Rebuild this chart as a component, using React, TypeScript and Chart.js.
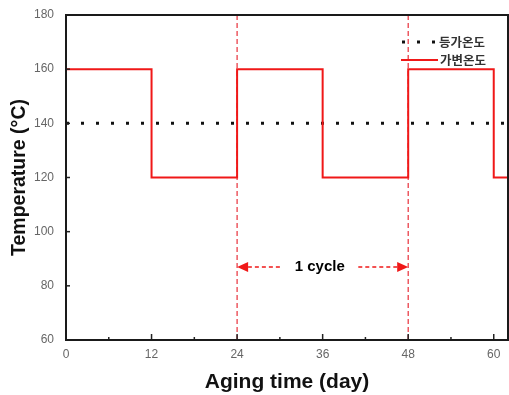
import React, { useEffect, useRef } from 'react';
import { Chart, registerables } from 'chart.js';

Chart.register(...registerables);

const stepDays = [0, 12, 24, 36, 48, 60, 62];
const variableTemps = [160, 120, 160, 120, 160, 120, 120];
const constantDays = [0, 62];
const constantTemps = [140, 140];
const cycleBoundaries = [24, 48];
const xTickValues = [0, 12, 24, 36, 48, 60];
const xMinorTickValues = [6, 18, 30, 42, 54];
const yTickValues = [60, 80, 100, 120, 140, 160, 180];
const legendLabels = ['등가온도', '가변온도'];
const cycleLabel = '1 cycle';
const cycleArrowY = 87;
const cycleArrowLeft = [30, 24];
const cycleArrowRight = [41, 48];
const cycleLabelX = 35.6;

const RED = '#f01818';

const decorPlugin = {
  id: 'decor',
  afterDatasetsDraw(chart: any) {
    const { ctx, chartArea, scales } = chart;
    const xs = scales.x;
    const ys = scales.y;
    ctx.save();
    // ticks inward
    ctx.strokeStyle = '#222';
    ctx.lineWidth = 1.5;
    xTickValues.forEach((v) => {
      const px = xs.getPixelForValue(v);
      ctx.beginPath();
      ctx.moveTo(px, chartArea.bottom);
      ctx.lineTo(px, chartArea.bottom - 6);
      ctx.stroke();
    });
    xMinorTickValues.forEach((v) => {
      const px = xs.getPixelForValue(v);
      ctx.beginPath();
      ctx.moveTo(px, chartArea.bottom);
      ctx.lineTo(px, chartArea.bottom - 3);
      ctx.stroke();
    });
    yTickValues.forEach((v) => {
      const py = ys.getPixelForValue(v);
      ctx.beginPath();
      ctx.moveTo(chartArea.left, py);
      ctx.lineTo(chartArea.left + 4, py);
      ctx.stroke();
    });
    // border
    ctx.strokeStyle = '#1a1a1a';
    ctx.lineWidth = 2;
    ctx.strokeRect(chartArea.left, chartArea.top, chartArea.right - chartArea.left, chartArea.bottom - chartArea.top);

    // cycle arrows
    const ay = ys.getPixelForValue(cycleArrowY);
    const drawArrow = (from: number, to: number) => {
      const x1 = xs.getPixelForValue(from);
      const x2 = xs.getPixelForValue(to);
      const dir = Math.sign(x2 - x1);
      const headLen = 11;
      ctx.strokeStyle = RED;
      ctx.lineWidth = 1.5;
      ctx.setLineDash([4, 3]);
      ctx.beginPath();
      ctx.moveTo(x1, ay);
      ctx.lineTo(x2 - dir * headLen, ay);
      ctx.stroke();
      ctx.setLineDash([]);
      ctx.fillStyle = RED;
      ctx.beginPath();
      ctx.moveTo(x2, ay);
      ctx.lineTo(x2 - dir * headLen, ay - 5);
      ctx.lineTo(x2 - dir * headLen, ay + 5);
      ctx.closePath();
      ctx.fill();
    };
    drawArrow(cycleArrowLeft[0], cycleArrowLeft[1]);
    drawArrow(cycleArrowRight[0], cycleArrowRight[1]);
    ctx.fillStyle = '#000';
    ctx.font = 'bold 15px "Liberation Sans", Arial, sans-serif';
    ctx.textAlign = 'center';
    ctx.textBaseline = 'middle';
    ctx.fillText(cycleLabel, xs.getPixelForValue(cycleLabelX), ay);

    // legend
    const lx = chartArea.right - 106;
    const ly1 = chartArea.top + 27;
    const ly2 = chartArea.top + 45;
    ctx.strokeStyle = '#111';
    ctx.lineWidth = 3;
    ctx.setLineDash([3, 12]);
    ctx.beginPath();
    ctx.moveTo(lx, ly1);
    ctx.lineTo(lx + 36, ly1);
    ctx.stroke();
    ctx.setLineDash([]);
    ctx.strokeStyle = RED;
    ctx.lineWidth = 2;
    ctx.beginPath();
    ctx.moveTo(lx - 1, ly2);
    ctx.lineTo(lx + 36, ly2);
    ctx.stroke();
    ctx.fillStyle = '#333';
    ctx.font = 'bold 12.5px "Noto Sans CJK KR", sans-serif';
    ctx.textAlign = 'left';
    ctx.fillText(legendLabels[0], lx + 37, ly1);
    ctx.fillText(legendLabels[1], lx + 38, ly2);
    ctx.restore();
  },
};

export default function App() {
  const ref = useRef<HTMLCanvasElement>(null);
  useEffect(() => {
    document.body.style.margin = '0';
    const canvas = ref.current!;
    const chart = new Chart(canvas, {
      type: 'scatter',
      data: {
        datasets: [
          {
            label: legendLabels[1],
            data: stepDays.map((d, i) => ({ x: d, y: variableTemps[i] })),
            showLine: true,
            stepped: 'before',
            borderColor: RED,
            borderWidth: 2,
            pointRadius: 0,
          },
          {
            label: legendLabels[0],
            data: constantDays.map((d, i) => ({ x: d, y: constantTemps[i] })),
            showLine: true,
            borderColor: '#111',
            borderWidth: 3,
            borderDash: [3, 12],
            pointRadius: 0,
          },
          ...cycleBoundaries.map((d) => ({
            label: 'cycle ' + d,
            data: [
              { x: d, y: 60 },
              { x: d, y: 180 },
            ],
            showLine: true,
            borderColor: '#e8303a',
            borderWidth: 1.2,
            borderDash: [5, 3],
            pointRadius: 0,
          })),
        ],
      },
      options: {
        responsive: false,
        animation: false,
        devicePixelRatio: 1,
        layout: { padding: { top: 15, right: 1, left: 0, bottom: 0 } },
        plugins: { legend: { display: false }, tooltip: { enabled: false } },
        scales: {
          x: {
            type: 'linear',
            min: 0,
            max: 62,
            afterBuildTicks: (s: any) => {
              s.ticks = xTickValues.map((v) => ({ value: v }));
            },
            afterFit: (s: any) => {
              s.height = 55;
              s.paddingLeft = 0;
              s.paddingRight = 0;
            },
            grid: { display: false, drawTicks: false },
            border: { display: false },
            ticks: {
              padding: 7,
              color: '#666',
              font: { family: '"Liberation Sans", Arial, sans-serif', size: 12 },
              maxRotation: 0,
            },
            title: {
              display: true,
              text: 'Aging time (day)',
              color: '#111',
              font: { family: '"Liberation Sans", Arial, sans-serif', size: 21, weight: 'bold' },
              padding: { top: 0, bottom: 0 },
            },
          },
          y: {
            type: 'linear',
            min: 60,
            max: 180,
            afterBuildTicks: (s: any) => {
              s.ticks = yTickValues.map((v) => ({ value: v }));
            },
            afterFit: (s: any) => {
              s.width = 66;
              s.paddingTop = 0;
              s.paddingBottom = 0;
            },
            grid: { display: false, drawTicks: false },
            border: { display: false },
            ticks: {
              padding: 12,
              color: '#666',
              font: { family: '"Liberation Sans", Arial, sans-serif', size: 12 },
            },
            title: {
              display: true,
              text: 'Temperature (°C)',
              color: '#111',
              font: { family: '"Liberation Sans", Arial, sans-serif', size: 19.5, weight: 'bold' },
              padding: { top: 8, bottom: 0 },
            },
          },
        },
      },
      plugins: [decorPlugin],
    });
    return () => chart.destroy();
  }, []);
  return <canvas ref={ref} width={509} height={395} style={{ display: 'block' }} />;
}
